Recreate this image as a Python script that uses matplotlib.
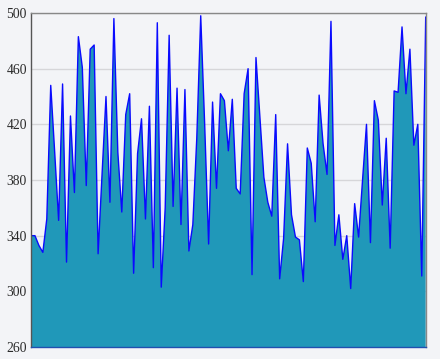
import matplotlib
matplotlib.use("Agg")
import matplotlib.pyplot as plt
import numpy as np

values = [
    340, 340, 333, 328, 352, 448, 400, 351, 449, 321,
    426, 371, 483, 461, 376, 474, 477, 327, 384, 440,
    364, 496, 400, 357, 427, 442, 313, 399, 424, 352,
    433, 317, 493, 303, 360, 484, 361, 446, 348, 445,
    329, 348, 410, 498, 420, 334, 436, 374, 442, 437,
    401, 438, 374, 370, 442, 460, 312, 468, 425, 382,
    364, 354, 427, 309, 338, 406, 355, 339, 337, 307,
    403, 392, 350, 441, 406, 384, 494, 333, 355, 323,
    340, 302, 363, 339, 380, 420, 335, 437, 423, 362,
    410, 331, 444, 443, 490, 442, 474, 405, 420, 311,
    497,
]
y_ticks = [260, 300, 340, 380, 420, 460, 500]

bg = "#f3f4f7"
fig = plt.figure(figsize=(4.40, 3.59), dpi=100, facecolor=bg)
ax = fig.add_axes([31/440, 1-347/359, (425.7-31)/440, (347-13)/359])
ax.set_facecolor(bg)

x = np.arange(len(values))
ax.fill_between(x, 260, values, facecolor="#2098b9", edgecolor="none", zorder=2)
ax.plot(x, values, color="#0a0aff", lw=1.0, zorder=3)
ax.plot([0, 0], [260, values[0]], color="#2050c0", lw=1.2, zorder=3)

ax.set_xlim(0, len(values) - 1)
ax.set_ylim(260, 500)
ax.set_yticks(y_ticks)
ax.set_yticklabels([str(t) for t in y_ticks], family="Liberation Serif", fontsize=9.8, color="#2a2a2a")
ax.set_xticks([])
ax.tick_params(axis="y", length=0, pad=3)
ax.grid(axis="y", color="#d6d6d9", lw=1.0, zorder=1)
ax.set_axisbelow(True)
ax.spines["left"].set_color("#555555")
ax.spines["top"].set_color("#888888")
ax.spines["right"].set_color("#888888")
ax.spines["bottom"].set_color("#2050b0")
for s in ax.spines.values():
    s.set_linewidth(1.0)
    s.set_zorder(4)

fig.savefig("out.png", dpi=100, facecolor=bg)
